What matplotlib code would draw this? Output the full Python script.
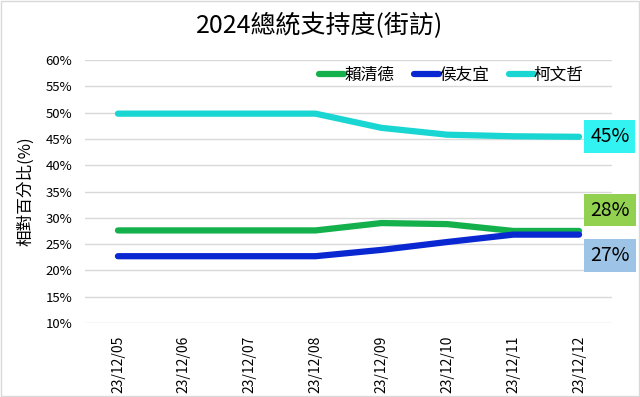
import matplotlib
matplotlib.use('Agg')
from matplotlib import pyplot as plt
import numpy as np

plt.rcParams['font.family'] = ['Noto Sans CJK TC', 'DejaVu Sans']

dates = ['23/12/05', '23/12/06', '23/12/07', '23/12/08',
         '23/12/09', '23/12/10', '23/12/11', '23/12/12']
lai = [27.6, 27.6, 27.6, 27.6, 29.0, 28.8, 27.5, 27.5]
hou = [22.7, 22.7, 22.7, 22.7, 23.9, 25.4, 26.8, 26.8]
ko = [49.8, 49.8, 49.8, 49.8, 47.1, 45.8, 45.5, 45.4]
names = ['賴清德', '侯友宜', '柯文哲']
end_labels = ['28%', '27%', '45%']

line_colors = ['#14b04c', '#0a28d2', '#1ad6d2']
box_colors = ['#92d050', '#9dc3e6', '#33f2f2']
offsets = [(8, 15), (8, -15), (8, 0)]

fig = plt.figure(figsize=(6.4, 3.97), dpi=100)
ax = fig.add_axes([85 / 640, 1 - 323 / 397, (612 - 85) / 640, (323 - 60) / 397])

x = np.arange(len(dates))
for vals, name, c in zip([lai, hou, ko], names, line_colors):
    ax.plot(x, vals, color=c, lw=4.5, solid_capstyle='round',
            solid_joinstyle='round', label=name)

for vals, lab, bc, off in zip([lai, hou, ko], end_labels, box_colors, offsets):
    ax.annotate(lab, xy=(x[-1], vals[-1]), xytext=off, textcoords='offset points',
                ha='left', va='center', fontsize=14, color='black',
                bbox=dict(boxstyle='square,pad=0.3', fc=bc, ec='none'),
                annotation_clip=False)

ax.set_xlim(-0.5, len(dates) - 0.5)
ax.set_ylim(10, 60)
ax.set_yticks(np.arange(10, 61, 5))
ax.set_yticklabels([f'{v}%' for v in range(10, 61, 5)], fontsize=9.5)
ax.set_xticks(x)
ax.set_xticklabels(dates, rotation=90, fontsize=10)
ax.tick_params(length=0, pad=9)
ax.grid(axis='y', color='#d9d9d9', lw=1)
ax.set_axisbelow(True)
for s in ax.spines.values():
    s.set_visible(False)

ax.set_ylabel('相對百分比(%)', fontsize=12, labelpad=8)

leg = ax.legend(loc='upper right', ncol=3, frameon=False, fontsize=12,
                bbox_to_anchor=(0.975, 1.03), handlelength=1.5,
                handletextpad=0.0, columnspacing=1.2)

fig.text(0.5, 0.935, '2024總統支持度(街訪)', ha='center', va='center',
         fontsize=18, fontweight='medium')

fig.patches.append(plt.Rectangle((0.002, 0.003), 0.996, 0.994, transform=fig.transFigure,
                                 fill=False, ec='#d9d9d9', lw=1))

fig.savefig('out.png', dpi=100)
